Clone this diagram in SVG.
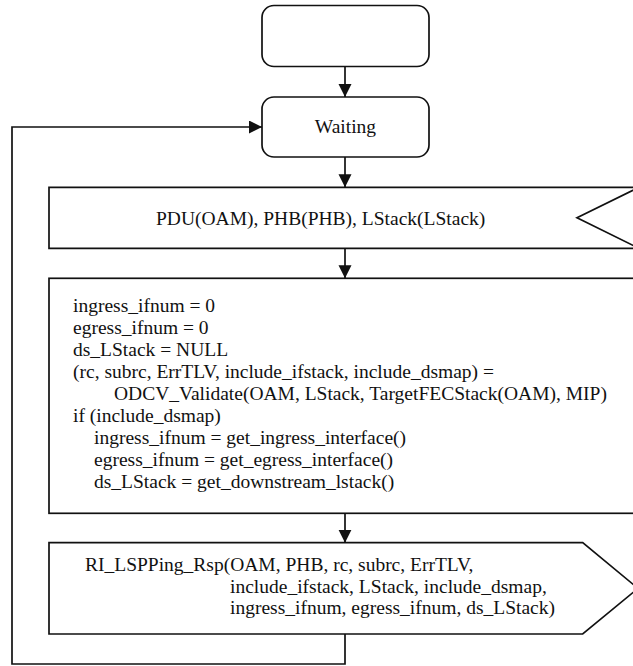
<svg xmlns="http://www.w3.org/2000/svg" width="633" height="666" viewBox="0 0 633 666">
<style>
.shape{fill:#fff;stroke:#111;stroke-width:1.7}
.line{fill:none;stroke:#111;stroke-width:1.7}
.t{font-family:'Liberation Serif','Tinos','Times New Roman',Times,'DejaVu Serif',serif;font-size:19.5px;fill:#111}
</style>
<defs>
<marker id="arr" markerWidth="14" markerHeight="14" refX="13" refY="6.5" orient="auto" markerUnits="userSpaceOnUse">
<path d="M0,0 L13,6.5 L0,13 Z" fill="#111"/>
</marker>
</defs>
<rect width="633" height="666" fill="#fff"/>
<g id="start">
<rect class="shape" x="262" y="5.5" width="167" height="61" rx="12"/>
</g>
<g id="waiting">
<rect class="shape" x="262" y="97" width="167" height="60" rx="12"/>
<text class="t" x="345.5" y="133" text-anchor="middle">Waiting</text>
</g>
<g id="input">
<polygon class="shape" points="49,187.3 639,187.3 577,217.8 639,248.3 49,248.3"/>
<text class="t" x="156" y="224.5">PDU(OAM), PHB(PHB), LStack(LStack)</text>
</g>
<g id="task">
<rect class="shape" x="49" y="278.3" width="592" height="235"/>
<text class="t" x="73" y="311.5">ingress_ifnum = 0</text>
<text class="t" x="73" y="333.5">egress_ifnum = 0</text>
<text class="t" x="73" y="355.5">ds_LStack = NULL</text>
<text class="t" x="73" y="377.5">(rc, subrc, ErrTLV, include_ifstack, include_dsmap) =</text>
<text class="t" x="114" y="399.5">ODCV_Validate(OAM, LStack, TargetFECStack(OAM), MIP)</text>
<text class="t" x="73" y="421.5">if (include_dsmap)</text>
<text class="t" x="94" y="443.5">ingress_ifnum = get_ingress_interface()</text>
<text class="t" x="94" y="465.5">egress_ifnum = get_egress_interface()</text>
<text class="t" x="94" y="487.5">ds_LStack = get_downstream_lstack()</text>
</g>
<g id="output">
<polygon class="shape" points="49,542.7 582.7,542.7 638,588.4 582.7,634 49,634"/>
<text class="t" x="85" y="571">RI_LSPPing_Rsp(OAM, PHB, rc, subrc, ErrTLV,</text>
<text class="t" x="230" y="592.5">include_ifstack, LStack, include_dsmap,</text>
<text class="t" x="230" y="614">ingress_ifnum, egress_ifnum, ds_LStack)</text>
</g>
<g id="connectors">
<line class="line" x1="345" y1="66.5" x2="345" y2="97" marker-end="url(#arr)"/>
<line class="line" x1="345" y1="157" x2="345" y2="187.3" marker-end="url(#arr)"/>
<line class="line" x1="345" y1="248.3" x2="345" y2="278.3" marker-end="url(#arr)"/>
<line class="line" x1="345" y1="513.3" x2="345" y2="542.7" marker-end="url(#arr)"/>
<polyline class="line" points="345,634 345,664 12,664 12,127 262,127" marker-end="url(#arr)"/>
</g>
</svg>
